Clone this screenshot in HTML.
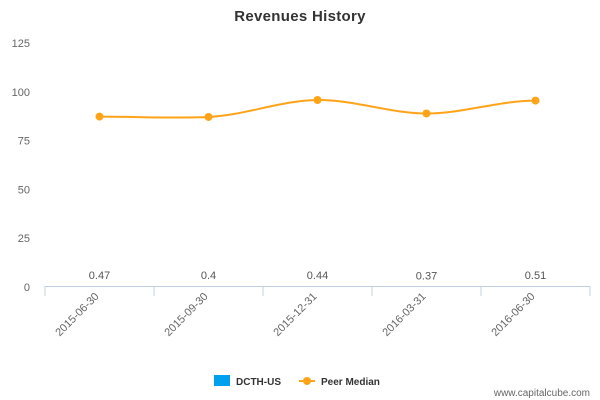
<!DOCTYPE html>
<html><head><meta charset="utf-8"><style>
body{margin:0;background:#fff}
svg{display:block;font-family:"Liberation Sans","DejaVu Sans",sans-serif}
</style></head><body>
<svg id="chart" width="600" height="400" viewBox="0 0 600 400">
<text x="300" y="21" text-anchor="middle" font-size="15" font-weight="bold" fill="#333" letter-spacing="0.3">Revenues History</text>
<g id="yaxis"></g>
<g id="xaxis"></g>
<g id="bars"></g>
<g id="line"></g>
<g>
<g>
<rect x="214" y="375" width="16" height="11" fill="#00a0ee"/>
<text x="236" y="385" font-size="10" font-weight="bold" fill="#333">DCTH-US</text></g>
<g>
<line x1="299" y1="381" x2="315" y2="381" stroke="#ffa319" stroke-width="2"/>
<circle cx="307" cy="381" r="4" fill="#ffa319"/>
<text x="321" y="385" font-size="10" font-weight="bold" fill="#333">Peer Median</text></g>
</g>
<text x="590" y="396" text-anchor="end" font-size="10" fill="#666">www.capitalcube.com</text>
</svg>
<script>
const categories=["2015-06-30","2015-09-30","2015-12-31","2016-03-31","2016-06-30"];
const barValues=[0.47,0.4,0.44,0.37,0.51];
const barLabels=["0.47","0.4","0.44","0.37","0.51"];
const peerMedian=[87.3,87.1,95.8,88.9,95.5];
const yTicks=[0,25,50,75,100,125];
const NS="http://www.w3.org/2000/svg";
const L=45,R=590,Y0=287,Y125=43;
const y=v=>Y0-(v/125)*(Y0-Y125);
const bw=(R-L)/categories.length;
const x=i=>L+bw*(i+0.5);
function mk(p,t,a){const e=document.createElementNS(NS,t);for(const k in a)e.setAttribute(k,a[k]);p.appendChild(e);return e;}
const ya=document.getElementById('yaxis');
yTicks.forEach(v=>{const t=mk(ya,'text',{x:30,y:y(v)+4,'text-anchor':'end','font-size':11,fill:'#666'});t.textContent=v;

});
const xa=document.getElementById('xaxis');
const bg=document.getElementById('bars');
barValues.forEach((v,i)=>{const h=Y0-y(v);const r=mk(bg,'rect',{x:x(i)-20,y:y(v),width:40,height:h,fill:'#00a0ee','fill-opacity':0});


const t=mk(bg,'text',{x:x(i),y:y(v)-7,'text-anchor':'middle','font-size':11,fill:'#555'});t.textContent=barLabels[i];

});
mk(xa,'line',{x1:L,y1:286.5,x2:R,y2:286.5,stroke:'#c0d0e0'});
for(let i=0;i<=categories.length;i++){mk(xa,'line',{x1:L+bw*i,y1:286,x2:L+bw*i,y2:296,stroke:'#c0d0e0'});}
categories.forEach((c,i)=>{const ax=x(i),ay=297;const t=mk(xa,'text',{x:ax,y:ay,'text-anchor':'end','font-size':11,fill:'#666',transform:`rotate(-45 ${ax} ${ay})`});t.textContent=c;

});
const lg=document.getElementById('line');
const pts=peerMedian.map((v,i)=>[x(i),y(v)]);
let d=`M${pts[0][0]},${pts[0][1]}`;
for(let i=1;i<pts.length;i++){const p=pts[i-1],q=pts[i];const dx=(q[0]-p[0])/3;
const pm=pts[i-2]||p,qn=pts[i+1]||q;
const s1=(q[1]-pm[1])/(q[0]-pm[0]||1)*(i-1>0?1:0),s2=(qn[1]-p[1])/(qn[0]-p[0]||1)*(i<pts.length-1?1:0);
d+=` C${p[0]+dx},${p[1]+s1*dx*0.6} ${q[0]-dx},${q[1]-s2*dx*0.6} ${q[0]},${q[1]}`;}
const path=mk(lg,'path',{d:d,fill:'none',stroke:'#ffa319','stroke-width':2});


pts.forEach((p,i)=>{const c=mk(lg,'circle',{cx:p[0],cy:p[1],r:4,fill:'#ffa319'});

});
</script>
</body></html>
